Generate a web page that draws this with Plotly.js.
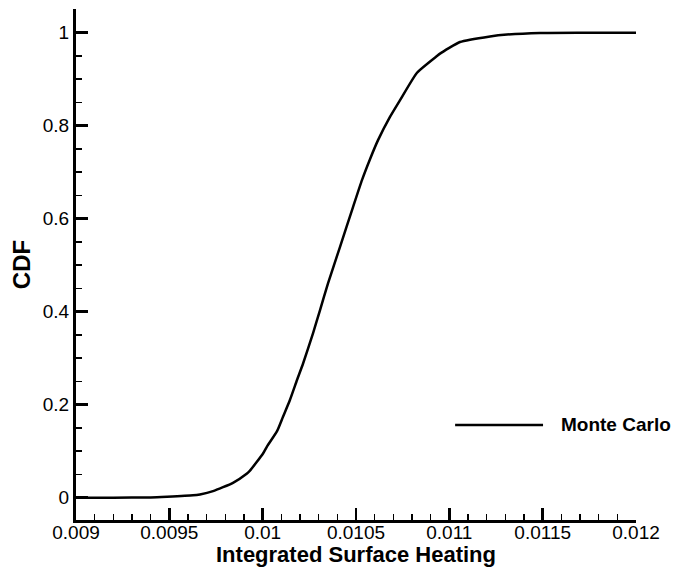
<!DOCTYPE html>
<html>
<head>
<meta charset="utf-8">
<script src="https://cdn.plot.ly/plotly-3.0.1.min.js"></script>
<style>html,body{margin:0;padding:0;background:#fff;}#chart{width:673px;height:569px;}</style>
</head>
<body>
<div id="chart"></div>
<script>
// Data
const heating = [0.0090, 0.0092, 0.0094, 0.009488, 0.009627, 0.009664, 0.009734, 0.009841, 0.009916, 0.009932,
  0.010002, 0.010023, 0.010077, 0.010109, 0.010146, 0.010184, 0.010216, 0.010270, 0.010307, 0.010350,
  0.010414, 0.010484, 0.010532, 0.010575, 0.010618, 0.010682, 0.010736, 0.010827, 0.010934, 0.010950,
  0.011057, 0.011218, 0.011309, 0.011486, 0.011700, 0.012000];
const cdf = [0.0, 0.0, 0.0005, 0.002, 0.005, 0.007, 0.014, 0.032, 0.052, 0.058,
  0.095, 0.110, 0.143, 0.174, 0.210, 0.253, 0.288, 0.354, 0.403, 0.461,
  0.539, 0.625, 0.683, 0.728, 0.769, 0.819, 0.855, 0.914, 0.950, 0.955,
  0.980, 0.992, 0.996, 0.9995, 1.0, 1.0];
const xTickVals = [0.009, 0.0095, 0.01, 0.0105, 0.011, 0.0115, 0.012];
const xTickText = ["0.009", "0.0095", "0.01", "0.0105", "0.011", "0.0115", "0.012"];
const yTickVals = [0, 0.2, 0.4, 0.6, 0.8, 1];
const yTickText = ["0", "0.2", "0.4", "0.6", "0.8", "1"];
const seriesName = "Monte Carlo";
const xTitle = "Integrated Surface Heating";
const yTitle = "CDF";

const font = "Liberation Sans, Arial, Helvetica, sans-serif";

const trace = {
  x: heating, y: cdf, type: "scatter", mode: "lines", name: seriesName,
  line: {color: "black", width: 2.5, shape: "spline", smoothing: 0.5}, showlegend: false, hoverinfo: "x+y"
};

const axisCommon = {
  showgrid: false, zeroline: false, showline: true, linecolor: "black", linewidth: 3,
  ticks: "inside", ticklen: 12, tickwidth: 2.5, tickcolor: "black",
  tickmode: "array", mirror: false,
  tickfont: {family: font, size: 19, color: "black"}
};

const layout = {
  width: 673, height: 569,
  margin: {l: 76, r: 37, t: 9, b: 49, pad: 0},
  paper_bgcolor: "white", plot_bgcolor: "white",
  xaxis: Object.assign({}, axisCommon, {
    range: [0.009, 0.012], tickvals: xTickVals, ticktext: xTickText, ticklabelstandoff: -7,
    minor: {ticks: "inside", ticklen: 6, tickwidth: 1.5, tickcolor: "black", tick0: 0.009, dtick: 0.0001, showgrid: false}
  }),
  yaxis: Object.assign({}, axisCommon, {
    range: [-0.048, 1.051], tickvals: yTickVals, ticktext: yTickText,
    minor: {ticks: "inside", ticklen: 6, tickwidth: 1.5, tickcolor: "black", tick0: 0, dtick: 0.05, showgrid: false},
    title: {text: yTitle, font: {family: font, size: 24, color: "black", weight: "bold"}, standoff: 6}
  }),
  shapes: [{type: "line", xref: "paper", yref: "paper", x0: 0.677, x1: 0.834, y0: 0.186, y1: 0.186,
    line: {color: "black", width: 2.5}}],
  annotations: [
    {xref: "paper", yref: "paper", x: 0.862, y: 0.186, xanchor: "left", yanchor: "middle",
      text: "<b>" + seriesName + "</b>", showarrow: false, font: {family: font, size: 19, color: "black"}},
    {xref: "paper", yref: "paper", x: 0.5, y: 0, xanchor: "center", yanchor: "top", yshift: -21, borderpad: 0,
      text: "<b>" + xTitle + "</b>", showarrow: false, font: {family: font, size: 22, color: "black"}}
  ]
};

Plotly.newPlot("chart", [trace], layout, {displayModeBar: false, staticPlot: true});
</script>
</body>
</html>
